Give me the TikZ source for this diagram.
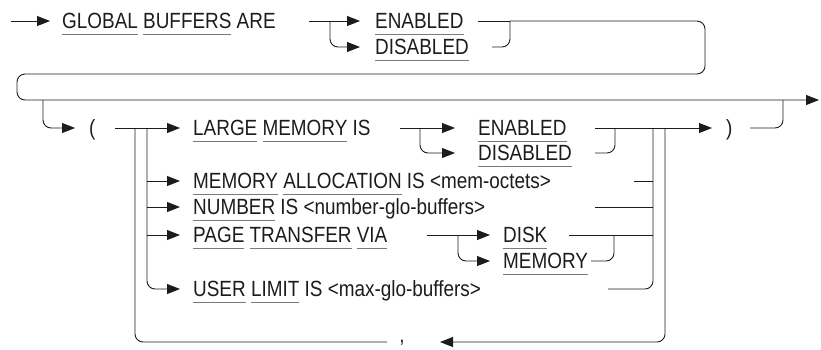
\documentclass[tikz,border=0pt]{standalone}
\usepackage{fontspec}
\setmainfont[FakeStretch=0.86]{Liberation Sans}
\usetikzlibrary{arrows.meta}
\definecolor{ink}{HTML}{1C1C1C}
\definecolor{ulc}{HTML}{7A7A7A}
\newsavebox\uwbox
\newcommand\uw[1]{\sbox\uwbox{#1}\rlap{\textcolor{ulc}{\rule[-5.5pt]{\wd\uwbox}{0.8pt}}}\usebox\uwbox}
\begin{document}
\begin{tikzpicture}[x=1pt,y=-1pt,
  line/.style={draw=ink, line width=0.9pt, rounded corners=8pt},
  arr/.style={line, -{Triangle[length=13pt,width=10pt]}},
  lbl/.style={anchor=west, inner sep=0pt, text height=15.8pt, text depth=0pt,
              font=\fontsize{22}{26}\selectfont, text=ink}]
\useasboundingbox (0,0) rectangle (821,349);

% ---- text nodes
\node[lbl] (gb)   at (62,21)   {\uw{GLOBAL} \uw{BUFFERS} ARE};
\node[lbl] (en1)  at (375,21)  {\uw{ENABLED}};
\node[lbl] (dis1) at (375,47)  {\uw{DISABLED}};
\node[lbl] (lp)   at (89,128)  {(};
\node[lbl] (lm)   at (193,128) {\uw{LARGE} \uw{MEMORY} IS};
\node[lbl] (en2)  at (478,128) {\uw{ENABLED}};
\node[lbl] (dis2) at (478,153) {\uw{DISABLED}};
\node[lbl] (ma)   at (193,181) {\uw{MEMORY} \uw{ALLOCATION} IS <mem-octets>};
\node[lbl] (num)  at (193,207) {\uw{NUMBER} IS <number-glo-buffers>};
\node[lbl] (pt)   at (193,235) {\uw{PAGE} \uw{TRANSFER} \uw{VIA}};
\node[lbl] (disk) at (503,235) {\uw{DISK}};
\node[lbl] (mem)  at (503,261) {\uw{MEMORY}};
\node[lbl] (ul)   at (193,289) {\uw{USER} \uw{LIMIT} IS <max-glo-buffers>};
\node[lbl] (rp)   at (726,128) {)};
\node[anchor=base, inner sep=0pt, font=\fontsize{22}{26}\selectfont, text=ink] (cm) at (402,342) {,};

% ---- junction coordinates
\coordinate (s0)  at (11,21);
\coordinate (a1)  at (309,21);
\coordinate (b1)  at (330,21);
\coordinate (j1)  at (510,21);
\coordinate (wr)  at (705,21);
\coordinate (wl)  at (17,74);
\coordinate (ex)  at (819,100);
\coordinate (b2)  at (43,100);
\coordinate (a3)  at (115,128);
\coordinate (lpL) at (135,128);
\coordinate (sp)  at (147,128);
\coordinate (a4)  at (400,128);
\coordinate (b4)  at (420,128);
\coordinate (j2)  at (615,128);
\coordinate (jv)  at (653,128);
\coordinate (rv)  at (665,128);
\coordinate (j3)  at (783,100);
\coordinate (a5)  at (427,235);
\coordinate (b5)  at (458,235);
\coordinate (j5)  at (614,235);
\coordinate (lt)  at (440,342);
\coordinate (lb)  at (387,342);

% ---- first line
\draw[arr] (s0) -- ([xshift=-12pt]gb.west);
\draw[arr] (a1) -- ([xshift=-15pt]en1.west);
\draw[arr] (b1) |- ([xshift=-15pt]dis1.west);
\draw[line] (478,21) -- (j1);
\draw[line] (492,47) -| (j1);
\draw[arr] (j1) -- (wr) |- (wl) |- (ex);

% ---- second part
\draw[arr] (b2) |- ([xshift=-14pt]lp.west);
\draw[arr] (a3) -- ([xshift=-13pt]lm.west);
\draw[arr] (sp) |- ([xshift=-13pt]ul.west);
\draw[arr] (sp |- ma.west) -- ([xshift=-13pt]ma.west);
\draw[arr] (sp |- num.west) -- ([xshift=-13pt]num.west);
\draw[arr] (sp |- pt.west) -- ([xshift=-13pt]pt.west);

% LARGE MEMORY IS choice
\draw[arr] (a4) -- ([xshift=-23pt]en2.west);
\draw[arr] (b4) |- ([xshift=-23pt]dis2.west);
\draw[line] (595,153) -| (j2);
\draw[arr] (595,128) -- ([xshift=-14pt]rp.west);
\draw[line] (750,128) -| (j3);

% PAGE TRANSFER VIA choice
\draw[arr] (a5) -- ([xshift=-13pt]disk.west);
\draw[arr] (b5) |- ([xshift=-13pt]mem.west);
\draw[line] ([xshift=3pt]mem.east) -| (j5);
\draw[line] (569,235) -- (jv |- disk.west);

% join of alternatives
\draw[line] (634,181) -- (jv |- ma.west);
\draw[line] (595,207) -- (jv |- num.west);
\draw[line] (608,289) -| (jv);

% repeat loop
\draw[arr] (rv) |- (lt);
\draw[line] (lb) -| (lpL);
\end{tikzpicture}
\end{document}
